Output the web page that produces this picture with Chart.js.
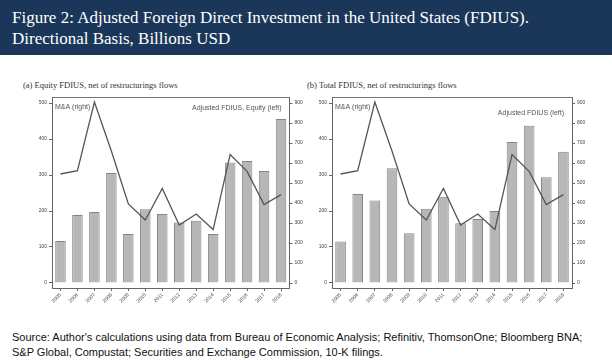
<!DOCTYPE html>
<html>
<head>
<meta charset="utf-8">
<script src="https://cdn.jsdelivr.net/npm/chart.js@4"></script>
<style>
  body { margin: 0; width: 612px; height: 360px; background: #fff; position: relative; overflow: hidden; }
  #header { position: absolute; left: 0; top: 0; width: 612px; height: 55px; background: #1a375a; }
  #header div { position: absolute; left: 12px; top: 7px; color: #fff; font-family: "Liberation Serif", serif; font-size: 17px; line-height: 21px; }
  .cap { position: absolute; top: 80px; font-family: "Liberation Serif", serif; font-size: 8.5px; color: #333; }
  .box { position: absolute; top: 90px; width: 290px; height: 240px; }
  #source { position: absolute; left: 12px; top: 330px; font-family: "Liberation Sans", Arial, sans-serif; font-size: 11px; line-height: 15px; color: #111; }
</style>
</head>
<body>
<div id="header"><div>Figure 2: Adjusted Foreign Direct Investment in the United States (FDIUS).<br>Directional Basis, Billions USD</div></div>
<div class="cap" style="left:23px">(a) Equity FDIUS, net of restructurings flows</div>
<div class="cap" style="left:307px">(b) Total FDIUS, net of restructurings flows</div>
<div class="box" style="left:20px"><canvas id="chartA"></canvas></div>
<div class="box" style="left:302px"><canvas id="chartB"></canvas></div>
<div id="source">Source: Author's calculations using data from Bureau of Economic Analysis; Refinitiv, ThomsonOne; Bloomberg BNA;<br>S&amp;P Global, Compustat; Securities and Exchange Commission, 10-K filings.</div>

<script>
// dados
const years = ['2005', '2006', '2007', '2008', '2009', '2010', '2011', '2012', '2013', '2014', '2015', '2016', '2017', '2018'];
const equityFdius = [117, 189, 197, 306, 136, 205, 192, 168, 173, 136, 335, 339, 311, 456];
const totalFdius = [115, 247, 229, 319, 138, 206, 240, 166, 178, 200, 392, 437, 294, 365];
const mergers = [545, 562, 905, 660, 395, 315, 473, 290, 345, 267, 642, 558, 392, 442];
const leftTicks = [0, 100, 200, 300, 400, 500];
const rightTicks = [0, 100, 200, 300, 400, 500, 600, 700, 800, 900];

const tickFont = { family: 'Liberation Sans', size: 5 };

// escreve os rótulos "M&A (right)" e da série de barras
const labelsPlugin = {
    id: 'labels',
    afterDraw(chart) {
        const ctx = chart.ctx;
        const area = chart.chartArea;
        ctx.save();
        ctx.fillStyle = '#555';
        ctx.font = '7px "Liberation Sans"';
        ctx.textBaseline = 'middle';
        ctx.textAlign = 'left';
        ctx.fillText('M&A (right)', area.left + 3, area.top + 10);
        ctx.textAlign = 'right';
        ctx.fillText(chart.options.barText, area.right - 8, area.top + chart.options.barTextDy);
        ctx.restore();
    }
};

function makeChart(id, bars, barText, barTextDy, leftW, rightW) {
    const ctx = document.getElementById(id).getContext('2d');
    return new Chart(ctx, {
        data: {
            labels: years,
            datasets: [
                {
                    type: 'line',
                    label: 'M&A (right)',
                    data: mergers,
                    yAxisID: 'y1',
                    borderColor: '#555',
                    borderWidth: 1.3,
                    pointRadius: 0,
                    tension: 0
                },
                {
                    type: 'bar',
                    label: barText,
                    data: bars,
                    yAxisID: 'y',
                    backgroundColor: '#b7b7b7',
                    borderColor: '#858585',
                    borderWidth: 1,
                    barPercentage: 0.62,
                    categoryPercentage: 1
                }
            ]
        },
        options: {
            responsive: true,
            maintainAspectRatio: false,
            animation: false,
            barText: barText,
            barTextDy: barTextDy,
            layout: { padding: 0 },
            plugins: { legend: { display: false }, tooltip: { enabled: false } },
            scales: {
                x: {
                    offset: true,
                    grid: { display: true, drawOnChartArea: false, offset: false, tickLength: 3, color: '#666' },
                    border: { display: true, color: '#666' },
                    ticks: { font: tickFont, color: '#444', minRotation: 45, maxRotation: 45, padding: 1 },
                    afterFit(scale) { scale.height = 42; }
                },
                xTop: {
                    type: 'category',
                    position: 'top',
                    grid: { display: false },
                    border: { display: true, color: '#777' },
                    ticks: { display: false },
                    afterFit(scale) { scale.height = 7; }
                },
                y: {
                    position: 'left',
                    min: -14,
                    max: 517,
                    afterBuildTicks(scale) { scale.ticks = leftTicks.map(v => ({ value: v })); },
                    grid: { drawOnChartArea: false, tickLength: 3, color: '#666' },
                    border: { display: true, color: '#666' },
                    ticks: { font: tickFont, color: '#444', padding: 2 },
                    afterFit(scale) { scale.width = leftW; }
                },
                y1: {
                    position: 'right',
                    min: -25,
                    max: 930,
                    afterBuildTicks(scale) { scale.ticks = rightTicks.map(v => ({ value: v })); },
                    grid: { drawOnChartArea: false, tickLength: 3, color: '#666' },
                    border: { display: true, color: '#666' },
                    ticks: { font: tickFont, color: '#444', padding: 2 },
                    afterFit(scale) { scale.width = rightW; }
                }
            }
        },
        plugins: [labelsPlugin]
    });
}

makeChart('chartA', equityFdius, 'Adjusted FDIUS, Equity (left)', 11, 32, 20.5);
makeChart('chartB', totalFdius, 'Adjusted FDIUS (left)', 16, 30, 20);
</script>
</body>
</html>
